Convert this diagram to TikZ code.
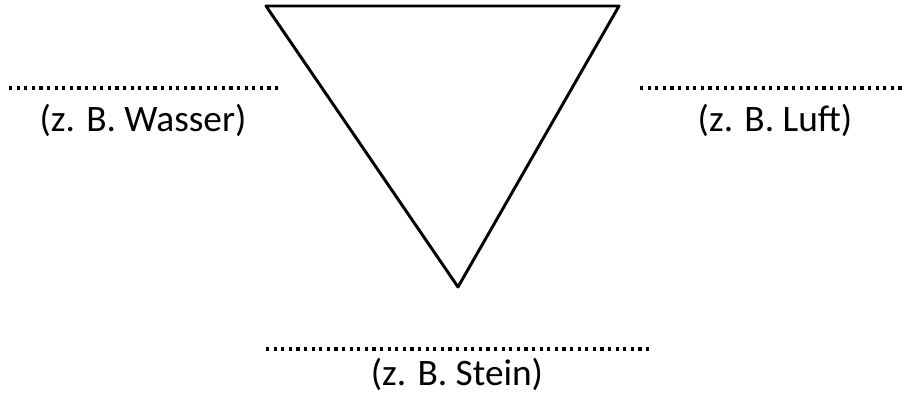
\documentclass[tikz,border=0pt]{standalone}
\usepackage{fontspec}
\setmainfont{Carlito}
\tikzset{
    dotline/.style={line width=2.8pt, dash pattern=on 2.4pt off 3.3pt},
    label/.style={font=\fontsize{28}{32}\selectfont}
}
\begin{document}
\begin{tikzpicture}[x=0.75pt, y=-0.75pt]
    \useasboundingbox (0,0) rectangle (908,395);

    % Triangle corners
    \coordinate (tl) at (266,6);
    \coordinate (tr) at (619,6);
    \coordinate (tip) at (458,287);
    \draw[line width=2.2pt, line join=round] (tl) -- (tr) -- (tip) -- cycle;

    % Dotted lines ends
    \coordinate (wl) at (9,88);
    \coordinate (wr) at (281,88);
    \coordinate (ll) at (640,88);
    \coordinate (lr) at (905,88);
    \coordinate (sl) at (266,349);
    \coordinate (sr) at (650,349);
    \draw[dotline] (wl) -- (wr);
    \draw[dotline] (ll) -- (lr);
    \draw[dotline] (sl) -- (sr);

    % Labels
    \node[label] (wasser) at (143,120) {(z. B. Wasser)};
    \node[label] (luft) at (775,120) {(z. B. Luft)};
    \node[label] (stein) at (457,374) {(z. B. Stein)};
\end{tikzpicture}
\end{document}
